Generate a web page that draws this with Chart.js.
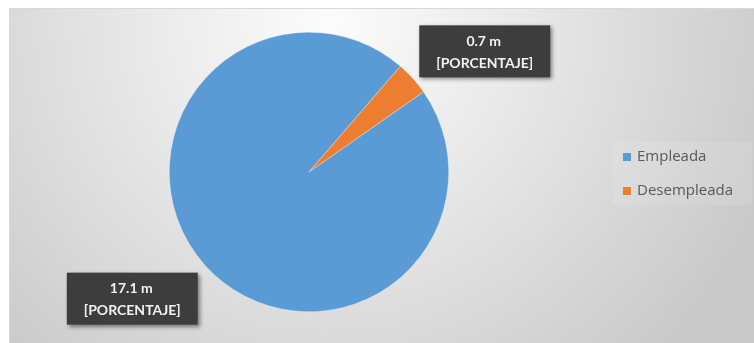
<!DOCTYPE html>
<html>
<head>
<meta charset="utf-8">
<script src="https://cdn.jsdelivr.net/npm/chart.js@4.4.1/dist/chart.umd.min.js"></script>
<style>
  html, body { margin: 0; padding: 0; background: #fff; }
  #wrap { width: 754px; height: 343px; }
</style>
</head>
<body>
<div id="wrap"><canvas id="grafico-poblacion"></canvas></div>
<script>
// Población por condición de empleo (millones)
const categorias = ['Empleada', 'Desempleada'];
const valores = [17.1, 0.7];
const colores = ['#5B9BD5', '#ED7D31'];
const textoEtiqueta = '[PORCENTAJE]';

// desplazamiento de cada caja de etiqueta respecto al borde del sector
const desplazamientos = [[-73, 33], [72, -27]];

// fondo degradado del área del gráfico
const fondoPlugin = {
    id: 'fondo',
    beforeDraw(chart) {
        const ctx = chart.ctx;
        ctx.save();
        ctx.fillStyle = '#ffffff';
        ctx.fillRect(0, 0, chart.width, chart.height);
        const g = ctx.createRadialGradient(330, 20, 10, 330, 20, 470);
        g.addColorStop(0, '#fbfbfb');
        g.addColorStop(0.35, '#ebebeb');
        g.addColorStop(1, '#c9c9c9');
        ctx.fillStyle = g;
        ctx.fillRect(9, 8, chart.width - 9, chart.height - 8);
        ctx.strokeStyle = '#d8d8d8';
        ctx.lineWidth = 1;
        ctx.strokeRect(9.5, 8.5, chart.width - 9, chart.height - 8);
        // caja clara de la leyenda
        ctx.fillStyle = 'rgba(255,255,255,0.1)';
        ctx.fillRect(613, 142, 139, 63);
        ctx.restore();
    }
};

// etiquetas oscuras con el valor y leyenda a la derecha
const etiquetasPlugin = {
    id: 'etiquetas',
    afterDraw(chart) {
        const ctx = chart.ctx;
        const meta = chart.getDatasetMeta(0);
        ctx.save();
        meta.data.forEach((arc, i) => {
            const p = arc.getProps(['x', 'y', 'startAngle', 'endAngle', 'outerRadius'], true);
            const medio = (p.startAngle + p.endAngle) / 2;
            const bx = p.x + Math.cos(medio) * p.outerRadius + desplazamientos[i][0];
            const by = p.y + Math.sin(medio) * p.outerRadius + desplazamientos[i][1];
            const linea1 = valores[i].toFixed(1) + ' m';
            ctx.font = 'bold 14px Lato, "Open Sans", sans-serif';
            const ancho = Math.max(ctx.measureText(linea1).width, ctx.measureText(textoEtiqueta).width) + 34;
            const alto = 52;
            ctx.shadowColor = 'rgba(0,0,0,0.45)';
            ctx.shadowBlur = 4;
            ctx.shadowOffsetX = 2;
            ctx.shadowOffsetY = 2;
            ctx.fillStyle = '#3d3d3d';
            ctx.fillRect(bx - ancho / 2, by - alto / 2, ancho, alto);
            ctx.shadowColor = 'transparent';
            ctx.fillStyle = '#f2f2f2';
            ctx.textAlign = 'center';
            ctx.textBaseline = 'middle';
            ctx.fillText(linea1, bx - 1, by - 10);
            ctx.fillText(textoEtiqueta, bx, by + 12);
        });

        // leyenda
        ctx.font = '15px "Open Sans", sans-serif';
        ctx.textAlign = 'left';
        ctx.textBaseline = 'middle';
        categorias.forEach((nombre, i) => {
            const y = 157 + i * 34;
            ctx.fillStyle = colores[i];
            ctx.fillRect(623, y - 4, 8, 8);
            ctx.fillStyle = '#595959';
            ctx.fillText(nombre, 637, y);
        });
        ctx.restore();
    }
};

new Chart(document.getElementById('grafico-poblacion').getContext('2d'), {
    type: 'pie',
    data: {
        labels: categorias,
        datasets: [{
            data: valores,
            backgroundColor: colores,
            borderColor: 'rgba(255,255,255,0.6)',
            borderWidth: 0.5
        }]
    },
    options: {
        responsive: true,
        maintainAspectRatio: false,
        animation: false,
        rotation: 55,
        layout: { padding: { left: 169, right: 305, top: 32, bottom: 31 } },
        plugins: {
            legend: { display: false },
            tooltip: { enabled: false }
        }
    },
    plugins: [fondoPlugin, etiquetasPlugin]
});
</script>
</body>
</html>
